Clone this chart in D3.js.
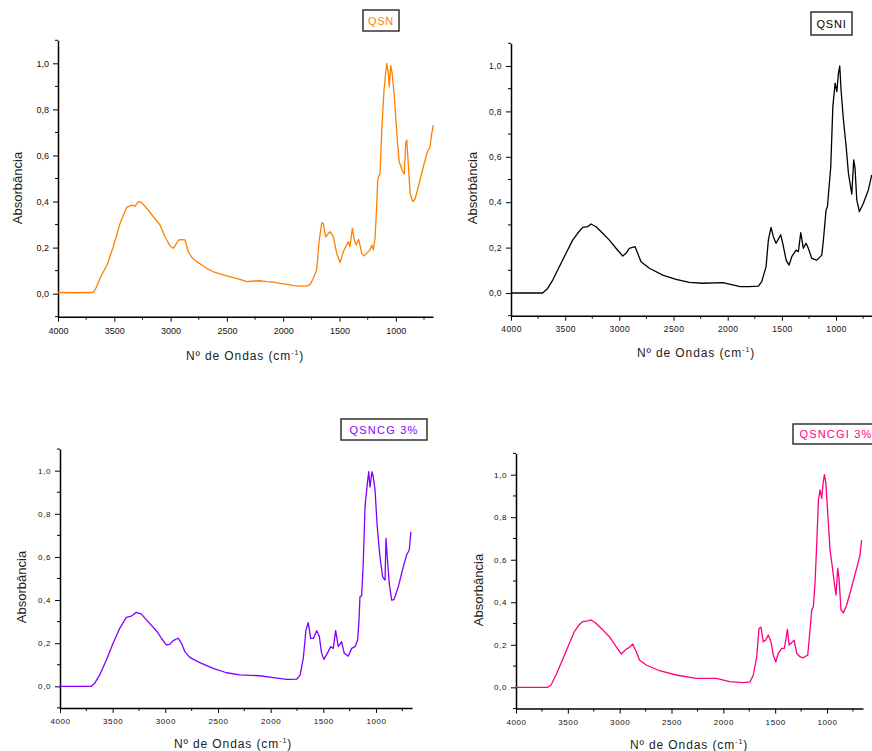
<!DOCTYPE html>
<html><head><meta charset="utf-8">
<script src="https://cdn.jsdelivr.net/npm/d3@7"></script>
<style>body{margin:0;background:#fff;}svg{display:block;}</style>
</head><body>
<svg id="c" width="872" height="751"></svg>
<script>
// ---- data ----
const xTicksMajor = [4000, 3500, 3000, 2500, 2000, 1500, 1000];
const yTicksMajor = [0, 0.2, 0.4, 0.6, 0.8, 1.0];
const seriesNames = ["QSN", "QSNI", "QSNCG 3%", "QSNCGI 3%"];
const seriesColors = ["#ff8000", "#000000", "#8000ff", "#ff0080"];

const qsnWave = [4000,3850,3700,3680,3657,3627,3560,3509,3449,3390,3346,3316,3287,3257,3198,3153,3094,3050,3005,2976,2946,2931,2900,2872,2843,2813,2768,2680,2620,2502,2384,2324,2265,2200,2147,2090,2028,1960,1910,1851,1792,1760,1733,1703,1680,1658,1644,1623,1600,1584,1555,1525,1496,1466,1437,1422,1407,1386,1368,1353,1330,1303,1283,1229,1214,1200,1185,1170,1161,1152,1140,1125,1105,1081,1066,1058,1046,1034,1016,999,987,970,940,925,912,903,888,873,850,830,800,756,720,696,681,667];
const qsnAbs  = [0.005,0.004,0.005,0.009,0.03,0.067,0.13,0.204,0.305,0.375,0.384,0.38,0.40,0.395,0.363,0.334,0.298,0.247,0.207,0.197,0.219,0.233,0.235,0.233,0.182,0.158,0.139,0.11,0.095,0.077,0.062,0.052,0.055,0.056,0.052,0.05,0.045,0.04,0.035,0.033,0.033,0.04,0.067,0.103,0.233,0.308,0.305,0.247,0.26,0.269,0.247,0.175,0.135,0.183,0.211,0.226,0.204,0.284,0.233,0.211,0.236,0.175,0.164,0.19,0.211,0.19,0.24,0.378,0.493,0.51,0.522,0.71,0.884,1.0,0.956,0.898,0.99,0.96,0.87,0.754,0.667,0.573,0.53,0.52,0.653,0.667,0.551,0.436,0.40,0.41,0.464,0.551,0.616,0.638,0.696,0.732];

const qsniWave = [4000,3850,3708,3662,3615,3554,3492,3431,3385,3338,3292,3262,3215,3154,3092,3031,2969,2938,2908,2855,2831,2800,2723,2600,2477,2354,2231,2046,1923,1886,1800,1717,1686,1646,1625,1600,1579,1554,1511,1492,1461,1434,1409,1369,1348,1326,1302,1277,1256,1225,1178,1132,1117,1092,1080,1067,1049,1030,1009,993,978,966,954,932,907,886,855,837,825,809,785,748,702,671];
const qsniAbs  = [0.0,0.0,0.0,0.02,0.057,0.116,0.175,0.233,0.263,0.289,0.292,0.304,0.292,0.263,0.233,0.197,0.163,0.175,0.197,0.204,0.175,0.138,0.109,0.079,0.06,0.047,0.043,0.046,0.032,0.028,0.028,0.03,0.05,0.116,0.233,0.289,0.248,0.219,0.256,0.219,0.145,0.123,0.16,0.189,0.182,0.266,0.197,0.219,0.197,0.153,0.145,0.167,0.233,0.366,0.38,0.454,0.556,0.82,0.924,0.887,0.968,1.0,0.894,0.762,0.645,0.527,0.436,0.586,0.55,0.41,0.358,0.395,0.454,0.52];

const qsncgWave = [4000,3850,3702,3671,3623,3560,3496,3433,3370,3322,3275,3227,3164,3085,3037,2990,2958,2926,2879,2847,2815,2768,2673,2546,2419,2293,2103,1976,1849,1816,1753,1721,1690,1665,1643,1620,1595,1563,1538,1516,1494,1462,1430,1405,1383,1358,1326,1301,1263,1231,1199,1174,1161,1152,1136,1121,1104,1082,1069,1057,1038,1025,1009,988,962,937,914,905,893,874,851,829,788,741,709,684,668];
const qsncgAbs  = [0.0,0.0,0.0,0.014,0.053,0.122,0.2,0.269,0.32,0.326,0.343,0.335,0.30,0.258,0.223,0.192,0.195,0.212,0.223,0.2,0.161,0.134,0.11,0.083,0.063,0.053,0.049,0.04,0.032,0.032,0.033,0.052,0.13,0.261,0.295,0.222,0.222,0.258,0.232,0.153,0.125,0.153,0.184,0.176,0.258,0.184,0.207,0.153,0.14,0.176,0.184,0.215,0.307,0.415,0.42,0.57,0.833,0.941,0.995,0.925,0.995,0.97,0.91,0.74,0.60,0.508,0.493,0.686,0.60,0.477,0.40,0.402,0.462,0.554,0.609,0.632,0.717];

const qsncgiWave = [4000,3850,3694,3662,3614,3549,3485,3437,3388,3356,3308,3276,3228,3163,3099,3034,2986,2938,2906,2874,2841,2809,2745,2616,2455,2262,2069,1940,1811,1742,1711,1678,1656,1637,1615,1592,1567,1540,1518,1495,1470,1437,1412,1398,1382,1366,1341,1318,1292,1261,1229,1186,1164,1148,1132,1116,1099,1083,1067,1051,1038,1025,1012,993,971,949,929,913,897,884,865,842,810,762,714,682,666];
const qsncgiAbs  = [0.0,0.0,0.0,0.011,0.058,0.132,0.207,0.262,0.296,0.309,0.313,0.317,0.301,0.27,0.238,0.191,0.157,0.179,0.188,0.204,0.168,0.129,0.105,0.078,0.058,0.042,0.042,0.027,0.022,0.026,0.058,0.144,0.277,0.283,0.214,0.222,0.246,0.214,0.152,0.12,0.16,0.183,0.183,0.222,0.273,0.199,0.21,0.222,0.16,0.144,0.139,0.152,0.269,0.363,0.379,0.489,0.677,0.88,0.928,0.889,0.959,1.0,0.965,0.818,0.646,0.567,0.489,0.434,0.56,0.51,0.363,0.351,0.387,0.473,0.56,0.622,0.693];

// ---- layout ----
const panels = [
  {wave: qsnWave, abs: qsnAbs, xd:[4000,670], xr:[58,433], yr:[316.7,40.3],
   legend:{x:363,y:10,w:36,h:21}, xt:{x:245,y:360}, yt:{x:22,y:188}, fs:9, ls:0},
  {wave: qsniWave, abs: qsniAbs, xd:[4000,650], xr:[511,874], yr:[315.7,43.3],
   legend:{x:811,y:12,w:41,h:23}, xt:{x:696,y:357}, yt:{x:477,y:188}, fs:8.5, ls:0.4},
  {wave: qsncgWave, abs: qsncgAbs, xd:[4000,658], xr:[60,412], yr:[707.9,449.1],
   legend:{x:341,y:419,w:86,h:21}, xt:{x:233,y:748}, yt:{x:26,y:587}, fs:8, ls:0.6},
  {wave: qsncgiWave, abs: qsncgiAbs, xd:[4000,653], xr:[516,863], yr:[708.6,453.4],
   legend:{x:793,y:424,w:86,h:20}, xt:{x:689,y:749}, yt:{x:483,y:590}, fs:8, ls:0.6}
];

const svg = d3.select("#c");
const font = "'Liberation Sans', Arial, sans-serif";
const fmtY = d => d3.format(".1f")(d).replace(".", ",");

panels.forEach((p, i) => {
  const color = seriesColors[i];
  const x = d3.scaleLinear().domain(p.xd).range(p.xr);
  const y = d3.scaleLinear().domain([-0.1, 1.1]).range(p.yr);
  const g = svg.append("g");

  const xMinor = d3.range(3750, p.xd[1], -500);
  const yMinor = d3.range(-1, 12, 2).map(v => v / 10);

  const xAxis = d3.axisBottom(x).tickValues(xTicksMajor).tickSize(5).tickSizeOuter(0).tickFormat(d3.format("d"));
  const gx = g.append("g").attr("transform", `translate(0,${p.yr[0]})`).call(xAxis);
  gx.append("g").selectAll("line").data(xMinor).join("line")
    .attr("x1", d => x(d)).attr("x2", d => x(d)).attr("y1", 0).attr("y2", 3)
    .attr("stroke", "#000");
  const yAxis = d3.axisLeft(y).tickValues(yTicksMajor).tickSize(5).tickSizeOuter(0).tickFormat(fmtY);
  const gy = g.append("g").attr("transform", `translate(${p.xr[0]},0)`).call(yAxis);
  gy.append("g").selectAll("line").data(yMinor).join("line")
    .attr("y1", d => y(d)).attr("y2", d => y(d)).attr("x1", 0).attr("x2", -3)
    .attr("stroke", "#000");

  [gx, gy].forEach(a => {
    a.select(".domain").attr("stroke", "#000").attr("stroke-width", 1.5);
    a.selectAll(".tick line").attr("stroke", "#000");
    a.selectAll("text").attr("font-family", font).attr("font-size", p.fs)
      .attr("fill", "#111").attr("letter-spacing", p.ls);
  });
  gx.selectAll(".tick text").attr("dy", "1.0em");
  gy.selectAll(".tick text").attr("x", -9);

  const pts = p.wave.map((w, k) => [w, p.abs[k]]);
  g.append("path").datum(pts)
    .attr("fill", "none").attr("stroke", color).attr("stroke-width", 1.3)
    .attr("stroke-linejoin", "round")
    .attr("d", d3.line().x(d => x(d[0])).y(d => y(d[1])));

  const xt = g.append("text").attr("x", p.xt.x).attr("y", p.xt.y)
    .attr("text-anchor", "middle").attr("font-family", font).attr("font-size", 12)
    .attr("fill", "#222").attr("letter-spacing", 0.9);
  xt.append("tspan").text("Nº de Ondas (cm");
  xt.append("tspan").attr("dy", -5).attr("font-size", 7).text("-1");
  xt.append("tspan").attr("dy", 5).text(")");

  g.append("text").attr("transform", `translate(${p.yt.x},${p.yt.y}) rotate(-90)`)
    .attr("text-anchor", "middle").attr("font-family", font).attr("font-size", 13)
    .attr("fill", "#222").text("Absorbância");

  g.append("rect").attr("x", p.legend.x).attr("y", p.legend.y)
    .attr("width", p.legend.w).attr("height", p.legend.h)
    .attr("fill", "#fff").attr("stroke", "#333").attr("stroke-width", 1.5);
  g.append("text").attr("x", p.legend.x + p.legend.w / 2).attr("y", p.legend.y + p.legend.h / 2 + 4)
    .attr("text-anchor", "middle")
    .attr("font-family", font).attr("font-size", 11).attr("fill", color)
    .attr("letter-spacing", i >= 2 ? 1.2 : 0.8).text(seriesNames[i]);
});
</script>
</body></html>
